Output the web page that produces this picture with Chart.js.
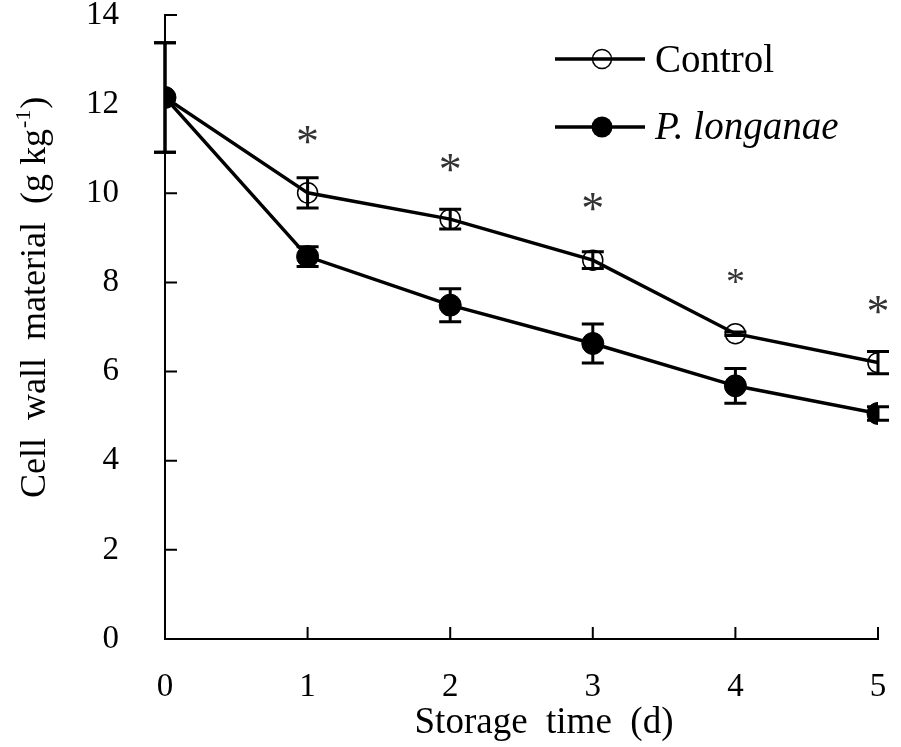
<!DOCTYPE html>
<html>
<head>
<meta charset="utf-8">
<script src="https://cdn.jsdelivr.net/npm/chart.js@4/dist/chart.umd.min.js"></script>
<style>
  html, body { margin: 0; padding: 0; background: #fff; }
  #wrap { width: 901px; height: 747px; }
</style>
</head>
<body>
<div id="wrap"><canvas id="cwm" width="901" height="747"></canvas></div>
<script>
// storage days
const days = [0, 1, 2, 3, 4, 5];
// cell wall material, g/kg
const controlMean = [12.15, 10.01, 9.42, 8.50, 6.85, 6.20];
const controlErr = [1.23, 0.34, 0.22, 0.19, 0.04, 0.25];
const longanaeMean = [12.15, 8.58, 7.49, 6.63, 5.68, 5.06];
const longanaeErr = [1.23, 0.22, 0.37, 0.44, 0.39, 0.15];
// where the significance marks sit (value units), null = none
const sigLevel = [null, 11.31, 10.67, 9.81, 8.13, 7.49];
const yTicks = [0, 2, 4, 6, 8, 10, 12, 14];

const SERIF = '"Liberation Serif", "Times New Roman", serif';
const STAR_SIZE = [46, 46, 46, 46, 38, 46];

function toPoints(xs, ys) {
    return xs.map((x, i) => ({ x: x, y: ys[i] }));
}

// scales should not push the plot area around
function noPad(s) {
    s.paddingTop = 0;
    s.paddingBottom = 0;
    s.paddingLeft = 0;
    s.paddingRight = 0;
}

// error bars + inward ticks + stars + legend + titles
const extras = {
    id: 'extras',
    afterDatasetsDraw(chart) {
        const ctx = chart.ctx;
        const xs = chart.scales.x, ys = chart.scales.y;
        const area = chart.chartArea;
        ctx.save();
        ctx.strokeStyle = '#000';
        ctx.fillStyle = '#000';

        // error bars
        ctx.lineWidth = 3;
        const bars = [[controlMean, controlErr], [longanaeMean, longanaeErr]];
        bars.forEach(([m, e]) => {
            days.forEach((d, i) => {
                if (!e[i]) return;
                const px = xs.getPixelForValue(d);
                const top = ys.getPixelForValue(m[i] + e[i]);
                const bot = ys.getPixelForValue(m[i] - e[i]);
                ctx.beginPath();
                ctx.moveTo(px, top); ctx.lineTo(px, bot);
                ctx.moveTo(px - 11, top); ctx.lineTo(px + 11, top);
                ctx.moveTo(px - 11, bot); ctx.lineTo(px + 11, bot);
                ctx.stroke();
            });
        });

        // ticks pointing into the plot
        ctx.lineWidth = 2;
        ctx.beginPath();
        yTicks.forEach(v => {
            const py = ys.getPixelForValue(v);
            ctx.moveTo(area.left, py); ctx.lineTo(area.left + 12, py);
        });
        days.forEach(d => {
            const px = xs.getPixelForValue(d);
            ctx.moveTo(px, area.bottom); ctx.lineTo(px, area.bottom - 12);
        });
        ctx.stroke();

        // significance stars
        ctx.fillStyle = '#333';
        ctx.textAlign = 'center';
        ctx.textBaseline = 'alphabetic';
        sigLevel.forEach((v, i) => {
            if (v == null) return;
            ctx.font = STAR_SIZE[i] + 'px ' + SERIF;
            const m = ctx.measureText('*');
            const off = (m.actualBoundingBoxAscent - m.actualBoundingBoxDescent) / 2;
            ctx.fillText('*', xs.getPixelForValue(days[i]), ys.getPixelForValue(v) + off);
        });

        // legend
        ctx.fillStyle = '#000';
        ctx.lineWidth = 3.5;
        ctx.beginPath();
        ctx.moveTo(555, 59); ctx.lineTo(645, 59);
        ctx.moveTo(555, 127); ctx.lineTo(645, 127);
        ctx.stroke();
        ctx.lineWidth = 1.5;
        ctx.beginPath();
        ctx.arc(602, 59, 9.5, 0, Math.PI * 2);
        ctx.stroke();
        ctx.beginPath();
        ctx.arc(602, 127, 10.5, 0, Math.PI * 2);
        ctx.fill();
        ctx.textAlign = 'left';
        ctx.font = '39px ' + SERIF;
        ctx.fillText('Control', 655, 72);
        ctx.font = 'italic 39px ' + SERIF;
        ctx.fillText('P. longanae', 655, 139);

        // axis titles
        ctx.font = '37px ' + SERIF;
        ctx.textAlign = 'center';
        ctx.fillText('Storage  time  (d)', 544, 733);

        ctx.translate(45, 498);
        ctx.rotate(-Math.PI / 2);
        ctx.textAlign = 'left';
        ctx.font = '36px ' + SERIF;
        const main = 'Cell  wall  material  (g kg';
        ctx.fillText(main, 0, 0);
        let w = ctx.measureText(main).width;
        ctx.font = '22px ' + SERIF;
        ctx.fillText('-1', w + 1, -15);
        w += ctx.measureText('-1').width + 2;
        ctx.font = '36px ' + SERIF;
        ctx.fillText(')', w, 0);
        ctx.restore();
    }
};

const ctx = document.getElementById('cwm').getContext('2d');
const chart = new Chart(ctx, {
    type: 'line',
    data: {
        datasets: [{
            label: 'Control',
            data: toPoints(days, controlMean),
            borderColor: '#000',
            borderWidth: 3.5,
            pointRadius: 10,
            pointBorderWidth: 1.5,
            pointBorderColor: '#000',
            pointBackgroundColor: 'rgba(0,0,0,0)',
            tension: 0
        }, {
            label: 'P. longanae',
            data: toPoints(days, longanaeMean),
            borderColor: '#000',
            borderWidth: 3.5,
            pointRadius: 11,
            pointBorderWidth: 1,
            pointBorderColor: '#000',
            pointBackgroundColor: '#000',
            tension: 0
        }]
    },
    options: {
        responsive: false,
        animation: false,
        devicePixelRatio: 1,
        layout: { padding: { top: 15, right: 23, left: 0, bottom: 0 } },
        plugins: {
            legend: { display: false },
            tooltip: { enabled: false }
        },
        scales: {
            x: {
                type: 'linear',
                min: 0,
                max: 5,
                afterBuildTicks: s => { s.ticks = days.map(v => ({ value: v })); },
                afterFit: s => { s.height = 108; noPad(s); },
                grid: { drawOnChartArea: false, drawTicks: false },
                border: { color: '#000', width: 2 },
                ticks: {
                    color: '#000',
                    padding: 29,
                    maxRotation: 0,
                    font: { family: SERIF, size: 33 }
                }
            },
            y: {
                min: 0,
                max: 14,
                afterBuildTicks: s => { s.ticks = yTicks.map(v => ({ value: v })); },
                afterFit: s => { s.width = 165; noPad(s); },
                grid: { drawOnChartArea: false, drawTicks: false },
                border: { color: '#000', width: 2 },
                ticks: {
                    color: '#000',
                    padding: 46,
                    font: { family: SERIF, size: 33 }
                }
            }
        }
    },
    plugins: [extras]
});
</script>
</body>
</html>
